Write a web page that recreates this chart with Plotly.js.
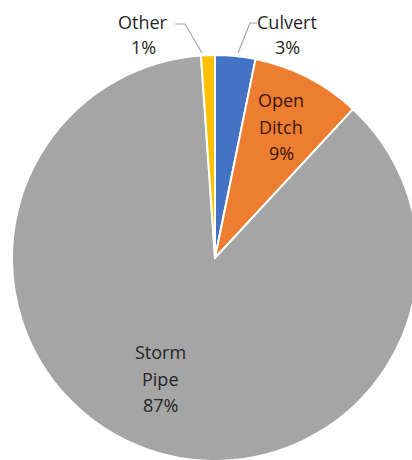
<!DOCTYPE html>
<html>
<head>
<meta charset="utf-8">
<script src="https://cdn.plot.ly/plotly-3.0.1.min.js"></script>
<style>
html,body{margin:0;padding:0;background:#fff;overflow:hidden;width:412px;height:460px;}
#chart{width:420px;height:470px;}
</style>
</head>
<body>
<div id="chart"></div>
<script>
// ---- data ----
const labels = ["Culvert", "Open Ditch", "Storm Pipe", "Other"];
const values = [3.2, 8.7, 87.0, 1.1];
const labelLines = [["Culvert"], ["Open", "Ditch"], ["Storm", "Pipe"], ["Other"]];
const colors = ["#4472C4", "#ED7D31", "#A5A5A5", "#FFC000"];

// ---- layout helpers ----
const W = 420, H = 470;
const px = x => x / W;
const py = y => 1 - y / H;
// label block placement (pixel centre x, first-line centre y), line step, text colour
const labelPos = [
  {x: 287, y: 22, step: 25, color: "#262626"},
  {x: 281, y: 100, step: 26.5, color: "#3a1608"},
  {x: 160, y: 352, step: 26.5, color: "#262626"},
  {x: 143, y: 22, step: 25, color: "#262626"}
];
// leader lines for the outside labels (pixel paths)
const leaders = [
  [[257, 23], [250, 23], [238, 53]],
  null, null,
  [[175, 24], [185, 24], [202, 53]]
];

const total = values.reduce((a, b) => a + b, 0);
const annotations = [];
labels.forEach((lab, i) => {
  const lines = labelLines[i].concat([Math.round(values[i] / total * 100) + "%"]);
  const p = labelPos[i];
  lines.forEach((t, k) => {
    annotations.push({
      xref: "paper", yref: "paper",
      x: px(p.x), y: py(p.y + k * p.step),
      xanchor: "center", yanchor: "middle",
      text: t, showarrow: false,
      font: {family: "Open Sans, sans-serif", size: 18, color: p.color}
    });
  });
});
const shapes = [];
leaders.forEach(l => {
  if (!l) return;
  shapes.push({
    type: "path", xref: "paper", yref: "paper",
    path: "M" + l.map(pt => px(pt[0]) + "," + py(pt[1])).join(" L"),
    line: {color: "#A6A6A6", width: 1.2}
  });
});

const trace = {
  type: "pie",
  labels: labels,
  values: values,
  sort: false,
  direction: "clockwise",
  rotation: 0,
  marker: {colors: colors, line: {color: "#ffffff", width: 2}},
  textinfo: "none",
  hoverinfo: "none",
  domain: {x: [px(12), px(418)], y: [py(461), py(55)]}
};
Plotly.newPlot("chart", [trace], {
  width: W, height: H,
  margin: {l: 0, r: 0, t: 0, b: 0},
  showlegend: false,
  paper_bgcolor: "#ffffff",
  annotations: annotations,
  shapes: shapes
}, {staticPlot: true});
</script>
</body>
</html>
